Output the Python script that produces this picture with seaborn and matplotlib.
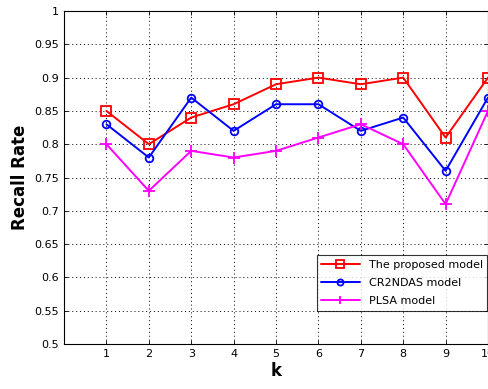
import matplotlib
matplotlib.use("Agg")
import matplotlib.pyplot as plt
import seaborn as sns
import pandas as pd

k = [1, 2, 3, 4, 5, 6, 7, 8, 9, 10]
proposed = [0.85, 0.80, 0.84, 0.86, 0.89, 0.90, 0.89, 0.90, 0.81, 0.90]
cr2ndas = [0.83, 0.78, 0.87, 0.82, 0.86, 0.86, 0.82, 0.84, 0.76, 0.87]
plsa = [0.80, 0.73, 0.79, 0.78, 0.79, 0.81, 0.83, 0.80, 0.71, 0.85]
series_names = ["The proposed model", "CR2NDAS model", "PLSA model"]
yticks = [0.5, 0.55, 0.6, 0.65, 0.7, 0.75, 0.8, 0.85, 0.9, 0.95, 1.0]
ytick_labels = ["0.5", "0.55", "0.6", "0.65", "0.7", "0.75", "0.8", "0.85", "0.9", "0.95", "1"]

sns.set_theme(style="white")
plt.rcParams['font.family'] = ['DejaVu Sans']
plt.rcParams['text.color'] = 'black'
plt.rcParams['axes.labelcolor'] = 'black'
plt.rcParams['xtick.color'] = 'black'
plt.rcParams['ytick.color'] = 'black'

fig = plt.figure(figsize=(4.89, 3.89), dpi=100)
ax = fig.add_axes([64/489, 1 - 344/389, (488-64)/489, (344-11)/389])

styles = [
    dict(color="#ff0000", marker="s", markersize=6.5),
    dict(color="#0000ff", marker="o", markersize=5.5),
    dict(color="#ff00ff", marker="+", markersize=8),
]
for name, vals, st in zip(series_names, [proposed, cr2ndas, plsa], styles):
    df = pd.DataFrame({"k": k, "v": vals})
    sns.lineplot(data=df, x="k", y="v", ax=ax, color=st["color"], marker=st["marker"],
                 markersize=st["markersize"], markerfacecolor="none",
                 markeredgecolor=st["color"], markeredgewidth=1.3, linewidth=1.4,
                 label=name)

ax.set_xlim(0, 10)
ax.set_ylim(0.5, 1.0)
ax.set_xticks(k)
ax.set_xticklabels([str(v) for v in k], fontsize=8)
ax.set_yticks(yticks)
ax.set_yticklabels(ytick_labels, fontsize=8)
ax.tick_params(direction="in", length=3, width=0.6, colors="black", left=True, bottom=True, top=True, right=True)
ax.grid(True, linestyle=(0, (1, 3)), color="black", linewidth=0.7)
for s in ax.spines.values():
    s.set_color("black")
    s.set_linewidth(0.8)
ax.set_xlabel("k", fontsize=12, fontweight="bold", labelpad=2, color="black")
ax.set_ylabel("Recall Rate", fontsize=12, fontweight="bold", labelpad=4, color="black")

leg = ax.legend(loc="lower right", bbox_to_anchor=(0.9985, 0.1), fontsize=8, frameon=True,
                fancybox=False, edgecolor="black", handlelength=3.5, borderaxespad=0,
                labelspacing=0.75, borderpad=0.4, markerscale=0.8)
leg.get_frame().set_linewidth(0.8)

fig.savefig("out.png", dpi=100)
